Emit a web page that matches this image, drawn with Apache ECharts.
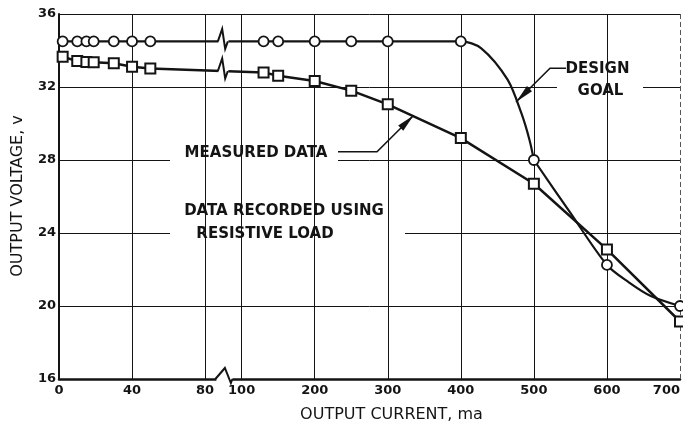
<!DOCTYPE html>
<html>
<head>
<meta charset="utf-8">
<script src="https://cdn.jsdelivr.net/npm/echarts@6/dist/echarts.min.js"></script>
<style>
  html, body { margin: 0; padding: 0; background: #fff; }
  #chart { width: 683px; height: 424px; }
</style>
</head>
<body>
<div id="chart"></div>
<script>
// Regulator output voltage (V) against output current (mA)
const designCurrent = [2, 10, 15, 19, 30, 40, 50, 130, 150, 200, 250, 300, 400, 500, 600, 700];
const designVolts   = [34.5, 34.5, 34.5, 34.5, 34.5, 34.5, 34.5, 34.5, 34.5, 34.5, 34.5, 34.5, 34.5, 28.0, 22.25, 20.0];

// Design-goal roll-off traced along the drawn curve (knee above 500 mA, tail below)
const kneeCurrent = [300, 400, 428, 464, 483, 494, 500];
const kneeVolts   = [34.5, 34.5, 34.12, 32.4, 30.55, 29.1, 28.0];
const tailCurrent = [500, 550, 600, 630, 660, 700];
const tailVolts   = [28.0, 25.1, 22.25, 21.3, 20.55, 20.0];

const measuredCurrent = [2, 10, 15, 19, 30, 40, 50, 130, 150, 200, 250, 300, 400, 500, 600, 700];
const measuredVolts   = [33.66, 33.42, 33.37, 33.35, 33.3, 33.11, 33.02, 32.8, 32.62, 32.33, 31.8, 31.05, 29.2, 26.7, 23.1, 19.15];

const currentTicks = [0, 40, 80, 100, 200, 300, 400, 500, 600, 700];
const voltTicks    = [16, 20, 24, 28, 32, 36];

// Broken current scale: 0-80 mA at 40 mA per division, then 100-700 mA at 100 mA per division
function axisPos(mA) {
  return mA <= 90 ? mA / 40 : 2.5 + (mA - 100) / 100;
}
const BREAK_POS = 2.25;            // where the scale break sits between 80 and 100
const X_MAX = axisPos(700);

const pairs = (xs, ys) => xs.map((x, i) => [axisPos(x), ys[i]]);

const INK = '#141414';
const FONT = '"DejaVu Sans", "Liberation Sans", sans-serif';
const NOTE_FONT = 'bold 15px ' + FONT;
const TITLE_FONT = '16px ' + FONT;

function tickLabel(v) {
  for (const t of currentTicks) {
    if (Math.abs(axisPos(t) - v) < 1e-6) return String(t);
  }
  return '';
}

// break marks on the two curves: each item gives the two neighbouring points either side of the break
const lineBreakItems = [
  [axisPos(50), designVolts[6], axisPos(130), designVolts[7]],
  [axisPos(50), measuredVolts[6], axisPos(130), measuredVolts[7]]
];

function arrowHead(from, tip, len, halfW) {
  const dx = tip[0] - from[0], dy = tip[1] - from[1];
  const d = Math.hypot(dx, dy);
  const ux = dx / d, uy = dy / d;
  const bx = tip[0] - ux * len, by = tip[1] - uy * len;
  return [tip, [bx - uy * halfW, by + ux * halfW], [bx + uy * halfW, by - ux * halfW]];
}

const designLeaderFrom = [550, 68.3], designTip = [516, 102];
const measuredLeaderFrom = [377, 151.7], measuredTip = [413.5, 115.5];

const curveLine = { color: INK, width: 2.2 };

const chart = echarts.init(document.getElementById('chart'), null, { renderer: 'canvas' });

chart.setOption({
  animation: false,
  backgroundColor: '#fff',
  grid: { left: 59, right: 2, top: 14, bottom: 45, containLabel: false },
  xAxis: {
    type: 'value',
    min: 0,
    max: X_MAX,
    interval: 0.5,
    axisLine: { show: true, onZero: false, lineStyle: { color: INK, width: 2.5 } },
    axisTick: { show: false },
    splitLine: { show: false },
    axisLabel: {
      margin: 5,
      color: INK,
      fontFamily: FONT,
      fontSize: 13,
      fontWeight: 'bold',
      showMinLabel: true,
      showMaxLabel: true,
      alignMaxLabel: 'right',
      formatter: tickLabel
    }
  },
  yAxis: {
    type: 'value',
    min: voltTicks[0],
    max: voltTicks[voltTicks.length - 1],
    interval: 4,
    axisLine: { show: true, lineStyle: { color: INK, width: 2 } },
    axisTick: { show: false },
    splitLine: { show: true, lineStyle: { color: INK, width: 1 } },
    axisLabel: {
      margin: 3,
      color: INK,
      fontFamily: FONT,
      fontSize: 13,
      fontWeight: 'bold'
    }
  },
  series: [
    {
      // vertical rulings of the graph paper
      type: 'line',
      data: [],
      z: 1,
      silent: true,
      markLine: {
        silent: true,
        symbol: 'none',
        label: { show: false },
        animation: false,
        lineStyle: { color: INK, width: 1, type: 'solid' },
        data: currentTicks.slice(1, -1).map(t => ({ xAxis: axisPos(t) })).concat([
          { xAxis: X_MAX, lineStyle: { color: '#555', width: 1, type: [5, 3] } }
        ])
      }
    },
    {
      name: 'Design goal (flat)',
      type: 'line',
      z: 10,
      symbol: 'none',
      lineStyle: curveLine,
      data: pairs(designCurrent.filter(c => c <= 300), designVolts)
    },
    {
      name: 'Design goal (knee)',
      type: 'line',
      z: 10,
      smooth: 0.3,
      symbol: 'none',
      lineStyle: curveLine,
      data: pairs(kneeCurrent, kneeVolts)
    },
    {
      name: 'Design goal (tail)',
      type: 'line',
      z: 10,
      smooth: 0.3,
      symbol: 'none',
      lineStyle: curveLine,
      data: pairs(tailCurrent, tailVolts)
    },
    {
      name: 'Measured data',
      type: 'line',
      z: 11,
      symbol: 'rect',
      symbolSize: 10,
      showAllSymbol: true,
      itemStyle: { color: '#fff', borderColor: INK, borderWidth: 2 },
      lineStyle: { color: INK, width: 2.5 },
      data: pairs(measuredCurrent, measuredVolts)
    },
    {
      name: 'Design goal points',
      type: 'scatter',
      z: 12,
      symbol: 'circle',
      symbolSize: 10,
      itemStyle: { color: '#fff', borderColor: INK, borderWidth: 1.8, opacity: 1 },
      data: pairs(designCurrent, designVolts)
    },
    {
      // scale-break zigzags drawn on both curves
      type: 'custom',
      z: 13,
      silent: true,
      clip: false,
      data: lineBreakItems,
      renderItem: function (params, api) {
        const a = api.coord([api.value(0), api.value(1)]);
        const b = api.coord([api.value(2), api.value(3)]);
        const cx = api.coord([BREAK_POS, voltTicks[0]])[0];
        const t = (cx - a[0]) / (b[0] - a[0]);
        const cy = a[1] + t * (b[1] - a[1]);
        return {
          type: 'group',
          children: [
            { type: 'rect', shape: { x: cx - 5, y: cy - 2.5, width: 10, height: 5 }, style: { fill: '#fff' } },
            { type: 'polyline',
              shape: { points: [[cx - 5.5, cy], [cx - 1.2, cy - 12.5], [cx + 1.8, cy + 7.5], [cx + 4.5, cy]] },
              style: { stroke: INK, lineWidth: 2, fill: null } }
          ]
        };
      }
    },
    {
      // scale-break zigzag on the current axis
      type: 'custom',
      z: 13,
      silent: true,
      clip: false,
      data: [[BREAK_POS, voltTicks[0]]],
      renderItem: function (params, api) {
        const p = api.coord([api.value(0), api.value(1)]);
        const cx = p[0], cy = p[1];
        return {
          type: 'group',
          children: [
            { type: 'rect', shape: { x: cx - 7, y: cy - 3, width: 16, height: 6 }, style: { fill: '#fff' } },
            { type: 'polyline',
              shape: { points: [[cx - 8, cy], [cx + 1.5, cy - 11], [cx + 7.5, cy + 4], [cx + 9, cy]] },
              style: { stroke: INK, lineWidth: 2, fill: null } }
          ]
        };
      }
    }
  ],
  graphic: [
    // clear panels behind the notes
    { type: 'rect', z: 5, silent: true, shape: { x: 170, y: 137, width: 168, height: 113 }, style: { fill: '#fff' } },
    { type: 'rect', z: 5, silent: true, shape: { x: 338, y: 193, width: 67, height: 57 }, style: { fill: '#fff' } },
    { type: 'rect', z: 5, silent: true, shape: { x: 557, y: 53, width: 86, height: 52 }, style: { fill: '#fff' } },

    { type: 'text', z: 6, silent: true,
      style: { text: 'MEASURED DATA', x: 256, y: 153, textAlign: 'center', textVerticalAlign: 'middle',
               font: NOTE_FONT, fill: INK } },
    { type: 'text', z: 6, silent: true,
      style: { text: 'DATA RECORDED USING', x: 284, y: 211.5, textAlign: 'center', textVerticalAlign: 'middle',
               font: NOTE_FONT, fill: INK } },
    { type: 'text', z: 6, silent: true,
      style: { text: 'RESISTIVE LOAD', x: 265, y: 234.5, textAlign: 'center', textVerticalAlign: 'middle',
               font: NOTE_FONT, fill: INK } },
    { type: 'text', z: 6, silent: true,
      style: { text: 'DESIGN', x: 597.5, y: 69, textAlign: 'center', textVerticalAlign: 'middle',
               font: NOTE_FONT, fill: INK } },
    { type: 'text', z: 6, silent: true,
      style: { text: 'GOAL', x: 600.5, y: 91, textAlign: 'center', textVerticalAlign: 'middle',
               font: NOTE_FONT, fill: INK } },

    // leaders with arrowheads
    { type: 'polyline', z: 6, silent: true,
      shape: { points: [[566, 68.3], designLeaderFrom, designTip] },
      style: { stroke: INK, lineWidth: 1.6, fill: null } },
    { type: 'polygon', z: 6, silent: true,
      shape: { points: arrowHead(designLeaderFrom, designTip, 19, 3.6) },
      style: { fill: INK } },
    { type: 'polyline', z: 6, silent: true,
      shape: { points: [[338, 151.7], measuredLeaderFrom, measuredTip] },
      style: { stroke: INK, lineWidth: 1.6, fill: null } },
    { type: 'polygon', z: 6, silent: true,
      shape: { points: arrowHead(measuredLeaderFrom, measuredTip, 18, 3.6) },
      style: { fill: INK } },

    // axis titles
    { type: 'text', z: 6, silent: true,
      x: 18, y: 196, rotation: Math.PI / 2,
      style: { text: 'OUTPUT VOLTAGE, v', x: 0, y: 0, textAlign: 'center', textVerticalAlign: 'middle',
               font: TITLE_FONT, fill: INK } },
    { type: 'text', z: 6, silent: true,
      style: { text: 'OUTPUT CURRENT, ma', x: 391.5, y: 415, textAlign: 'center', textVerticalAlign: 'middle',
               font: TITLE_FONT, fill: INK } }
  ]
});
</script>
</body>
</html>
